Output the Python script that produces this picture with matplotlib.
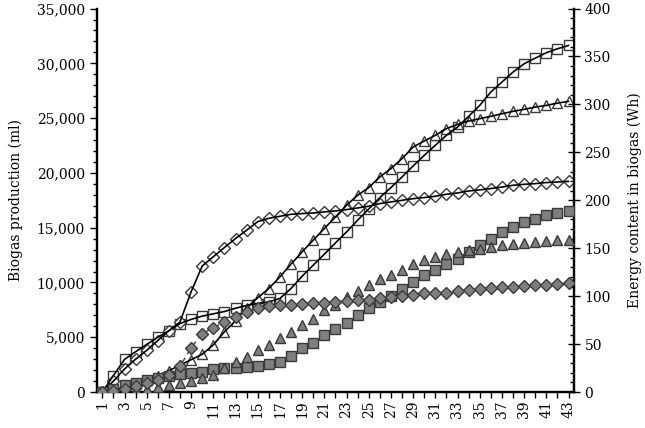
import numpy as np
import matplotlib
matplotlib.use("Agg")
from matplotlib import pyplot as plt
from matplotlib.ticker import MultipleLocator, FuncFormatter

plt.rcParams['font.family'] = ['DejaVu Serif']

days = list(range(1, 44))

# biogas production (ml), left axis
biogas_square = [0, 1500, 2980, 3680, 4350, 5000, 5600, 6250, 6630, 6930,
                 7140, 7350, 7650, 7900, 8080, 8230, 8540, 9450, 10570, 11580,
                 12580, 13610, 14610, 15680, 16700, 17750, 18660, 19630, 20630, 21600,
                 22520, 23430, 24180, 25160, 26160, 27380, 28290, 29200, 29960, 30470,
                 30970, 31330, 31630]
biogas_triangle = [0, 200, 450, 750, 1100, 1500, 1950, 2450, 2950, 3450,
                   4300, 5500, 6500, 7700, 8600, 9450, 10510, 11670, 12790, 13860,
                   14920, 15980, 17050, 17960, 18660, 19630, 20390, 21300, 22360, 22910,
                   23430, 24040, 24430, 24730, 24950, 25160, 25400, 25620, 25800, 26010,
                   26160, 26370, 26530]
biogas_diamond = [0, 1000, 2100, 3000, 3800, 4700, 5600, 6400, 9150, 11500,
                  12350, 13190, 14010, 14770, 15550, 15860, 16040, 16220, 16290, 16340,
                  16440, 16530, 16650, 16800, 16960, 17200, 17350, 17500, 17650, 17750,
                  17870, 18050, 18170, 18350, 18450, 18570, 18710, 18870, 18960, 19020,
                  19120, 19170, 19230]

# energy content (Wh), right axis
energy_square = [0, 3, 7, 9.7, 12.5, 14.8, 16.8, 19, 20.1, 21.2,
                 23.6, 24.7, 25.5, 26.4, 27.4, 29.2, 31.6, 37.5, 45.5, 51.4,
                 59.4, 65.3, 72.2, 80.2, 87.5, 94.1, 100, 108, 114.9, 121.9,
                 127.5, 134, 139, 146, 153.1, 160.1, 167, 172.2, 177.4, 180.9,
                 185.1, 187.2, 188.5]
energy_triangle = [0, 0.3, 1, 2, 3.5, 5.5, 7.3, 9, 11.8, 14.2,
                   17.7, 24.7, 31.6, 37, 43.4, 49, 55.9, 62.8, 69.8, 76.7,
                   85.4, 90.6, 99.3, 105.5, 111.5, 117.4, 121.9, 127.8, 134, 137.5,
                   141, 144, 146.5, 148, 149.7, 151.4, 153.1, 154.9, 155.5, 156.6,
                   157.6, 158.3, 159]
energy_diamond = [0, 1, 3, 6, 9, 13, 18, 27, 46, 61,
                  67, 73, 78.7, 83.6, 87.7, 90, 91, 91.3, 91.7, 92.4,
                  93, 94.1, 95.1, 95.8, 96.2, 97.6, 99.3, 99.8, 101.7, 102.8,
                  103.3, 103.8, 105, 106.3, 107.2, 109, 109.2, 109.7, 110.4, 111.5,
                  111.7, 112.5, 113.9]

edge = '#3a3a3a'
fill = '#7f7f7f'

fig = plt.figure(figsize=(6.45, 4.28), dpi=100)
ax = fig.add_axes([0.150, 0.084, 0.740, 0.896])
ax2 = ax.twinx()

# hollow markers = biogas (left)
for vals, m, ms in [(biogas_square, 's', 7.5), (biogas_triangle, '^', 7.5), (biogas_diamond, 'D', 6)]:
    ax.plot(days, vals, linestyle='none', marker=m, markersize=ms,
            markerfacecolor='white', markeredgecolor=edge, markeredgewidth=1.0, zorder=3)
    ax.plot(days, vals, color='black', linewidth=1.2, zorder=4)

# filled markers = energy (right)
ax2.plot(days, energy_diamond, color='#444444', linewidth=1.0, linestyle=(0, (4, 3)), zorder=2)
for vals, m, ms in [(energy_square, 's', 7.5), (energy_triangle, '^', 7.5), (energy_diamond, 'D', 6)]:
    ax2.plot(days, vals, linestyle='none', marker=m, markersize=ms,
             markerfacecolor=fill, markeredgecolor=edge, markeredgewidth=1.0, zorder=3)

ax.set_xlim(0.5, 43.5)
ax.set_ylim(0, 35000)
ax2.set_ylim(0, 400)

ax.set_xticks(days)
ax.set_xticklabels([str(d) if d % 2 == 1 else '' for d in days], rotation=90, fontsize=10)
ax.tick_params(axis='x', direction='out', length=4, width=1, pad=2)

ax.yaxis.set_major_locator(MultipleLocator(5000))
ax.yaxis.set_minor_locator(MultipleLocator(1000))
ax.yaxis.set_major_formatter(FuncFormatter(lambda v, p: f'{int(v):,}'))
ax.tick_params(axis='y', which='major', direction='out', length=5, width=1, labelsize=10)
ax.tick_params(axis='y', which='minor', direction='out', length=3, width=1)

ax2.yaxis.set_major_locator(MultipleLocator(50))
ax2.yaxis.set_minor_locator(MultipleLocator(10))
ax2.tick_params(axis='y', which='major', direction='inout', length=8, width=1, labelsize=10)
ax2.tick_params(axis='y', which='minor', direction='in', length=3, width=1)

for a in (ax, ax2):
    a.spines['top'].set_visible(False)
    for s in ('left', 'right', 'bottom'):
        a.spines[s].set_linewidth(1.6)

ax.set_ylabel('Biogas production (ml)', fontsize=10, labelpad=10)
ax2.set_ylabel('Energy content in biogas (Wh)', fontsize=10, labelpad=12)

fig.savefig('out.png', dpi=100)
